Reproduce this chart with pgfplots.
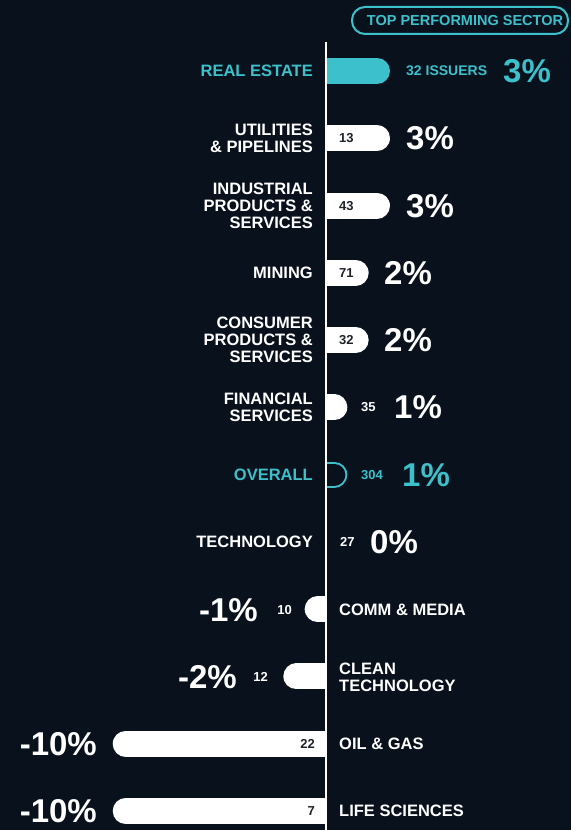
\documentclass[border=0pt]{standalone}
\usepackage{fontspec}
\setmainfont{Liberation Sans}
\usepackage{pgfplots}
\pgfplotsset{compat=1.18}
\definecolor{bg}{HTML}{09121C}
\definecolor{teal}{HTML}{3CC0CB}
\definecolor{ink}{HTML}{1E2229}
\pgfplotsset{rowbars/.style={hide axis, scale only axis, height=830pt, ymin=-1.0554, ymax=11.283, y dir=reverse, clip=true},
  bar/.style={line width=26pt, line cap=round, shorten >=13pt}}
\tikzset{cat/.style={inner sep=0pt, font=\fontsize{16.5}{16.7}\selectfont\bfseries, text=white},
  pct/.style={inner sep=0pt, font=\fontsize{33}{33}\selectfont\bfseries, text=white},
  cnt/.style={inner sep=0pt, font=\fontsize{13}{13}\selectfont\bfseries, text=white}}
\begin{document}
\begin{tikzpicture}[x=1pt,y=1pt]
\path[use as bounding box] (0,0) rectangle (571,830);
\fill[bg] (0,0) rectangle (571,830);
% positive side
\begin{axis}[rowbars, at={(326pt,0pt)}, anchor=south west, width=245pt, xmin=0, xmax=11.486]
\addplot[teal, bar] coordinates {(0,0) (3,0)};
\addplot[white, bar] coordinates {(0,1) (3,1)};
\addplot[white, bar] coordinates {(0,2) (3,2)};
\addplot[white, bar] coordinates {(0,3) (2,3)};
\addplot[white, bar] coordinates {(0,4) (2,4)};
\addplot[white, bar] coordinates {(0,5) (1,5)};
\addplot[teal, bar] coordinates {(0,6) (1,6)};
\addplot[bg, line width=22pt, line cap=round, shorten >=13pt] coordinates {(0,6) (1,6)};
\end{axis}
% negative side
\begin{axis}[rowbars, at={(0pt,0pt)}, anchor=south west, width=326pt, xmin=-15.284, xmax=0]
\addplot[white, bar] coordinates {(0,8) (-1,8)};
\addplot[white, bar] coordinates {(0,9) (-2,9)};
\addplot[white, bar] coordinates {(0,10) (-10,10)};
\addplot[white, bar] coordinates {(0,11) (-10,11)};
\end{axis}
\draw[white, line width=2pt] (326,0) -- (326,788);
% top pill
\draw[teal, line width=2pt, rounded corners=13pt] (352,796) rectangle (568,823);
\node[inner sep=0pt, font=\fontsize{14.5}{14.5}\selectfont\bfseries, text=teal] at (465,809.5) {TOP PERFORMING SECTOR};
% category labels
\node[cat, anchor=east, text=teal] at (313,759) {REAL ESTATE};
\node[cat, anchor=east, align=right] at (313,692) {UTILITIES\\\& PIPELINES};
\node[cat, anchor=east, align=right] at (313,624) {INDUSTRIAL\\PRODUCTS \&\\SERVICES};
\node[cat, anchor=east] at (313,557) {MINING};
\node[cat, anchor=east, align=right] at (313,490) {CONSUMER\\PRODUCTS \&\\SERVICES};
\node[cat, anchor=east, align=right] at (313,423) {FINANCIAL\\SERVICES};
\node[cat, anchor=east, text=teal] at (313,355) {OVERALL};
\node[cat, anchor=east] at (313,288) {TECHNOLOGY};
\node[cat, anchor=west] at (339,220) {COMM \& MEDIA};
\node[cat, anchor=west, align=left] at (339,153) {CLEAN\\TECHNOLOGY};
\node[cat, anchor=west] at (339,86) {OIL \& GAS};
\node[cat, anchor=west] at (339,19) {LIFE SCIENCES};
% percentages
\node[pct, anchor=west, text=teal] at (503,759) {3\%};
\node[pct, anchor=west] at (406,692) {3\%};
\node[pct, anchor=west] at (406,624) {3\%};
\node[pct, anchor=west] at (384,557) {2\%};
\node[pct, anchor=west] at (384,490) {2\%};
\node[pct, anchor=west] at (394,423) {1\%};
\node[pct, anchor=west, text=teal] at (402,355) {1\%};
\node[pct, anchor=west] at (370,288) {0\%};
\node[pct, anchor=east] at (258,220) {-1\%};
\node[pct, anchor=east] at (237,153) {-2\%};
\node[pct, anchor=east] at (97,86) {-10\%};
\node[pct, anchor=east] at (97,19) {-10\%};
% counts
\node[inner sep=0pt, font=\fontsize{14}{14}\selectfont\bfseries, text=teal, anchor=west] at (406,759) {32 ISSUERS};
\node[cnt, anchor=west, text=ink] at (339,692) {13};
\node[cnt, anchor=west, text=ink] at (339,624) {43};
\node[cnt, anchor=west, text=ink] at (339,557) {71};
\node[cnt, anchor=west, text=ink] at (339,490) {32};
\node[cnt, anchor=west] at (361,423) {35};
\node[cnt, anchor=west, text=teal] at (361,355) {304};
\node[cnt, anchor=west] at (340,288) {27};
\node[cnt, anchor=east] at (292,220) {10};
\node[cnt, anchor=east] at (268,153) {12};
\node[cnt, anchor=east, text=ink] at (315,86) {22};
\node[cnt, anchor=east, text=ink] at (315,19) {7};
\end{tikzpicture}
\end{document}
